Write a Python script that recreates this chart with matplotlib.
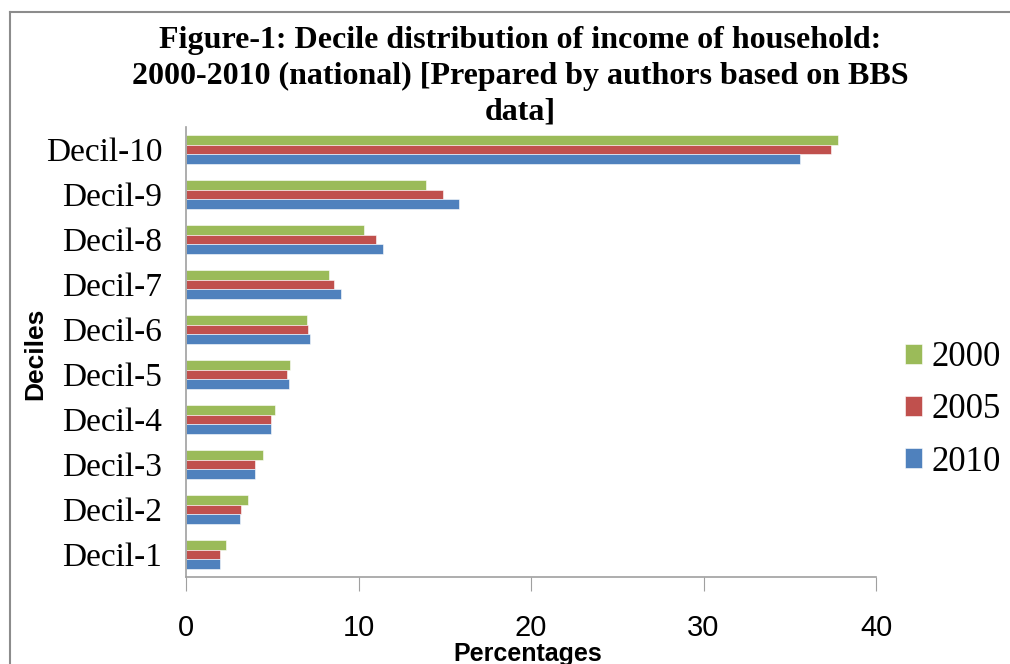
import numpy as np
import matplotlib.pyplot as plt
from matplotlib.lines import Line2D

deciles = ["Decil-1", "Decil-2", "Decil-3", "Decil-4", "Decil-5",
           "Decil-6", "Decil-7", "Decil-8", "Decil-9", "Decil-10"]
share_2000 = [2.3, 3.6, 4.45, 5.15, 6.0, 7.0, 8.3, 10.3, 13.9, 37.8]
share_2005 = [1.95, 3.2, 4.0, 4.9, 5.85, 7.05, 8.6, 11.0, 14.9, 37.4]
share_2010 = [1.95, 3.15, 4.0, 4.9, 5.95, 7.2, 9.0, 11.4, 15.8, 35.6]
years = ["2000", "2005", "2010"]
colors = ["#9BBB59", "#C0504D", "#4F81BD"]

serif = ["Liberation Serif", "DejaVu Serif"]
sans = ["Liberation Sans", "DejaVu Sans"]

fig = plt.figure(figsize=(10.1, 6.64), dpi=100)
ax = fig.add_axes([186/1010, 1 - 577/664, 690/1010, 450/664])

y = np.arange(len(deciles))
h = 0.222
bars = []
for k, (vals, col) in enumerate(zip([share_2000, share_2005, share_2010], colors)):
    b = ax.barh(y + (1 - k)*h, vals, height=h, color=col,
                edgecolor="white", linewidth=0.4)
    bars.append(b)

ax.set_xlim(0, 40)
ax.set_ylim(-0.5, 9.5)
ax.set_xticks([0, 10, 20, 30, 40])
ax.set_yticks(y)
ax.set_yticklabels(deciles, family=serif, fontsize=24)
for lab in ax.get_xticklabels():
    lab.set_family(sans)
    lab.set_fontsize(21)
ax.tick_params(axis="x", direction="out", length=10, color="#A0A0A0", pad=17)
ax.tick_params(axis="y", length=0, pad=17)
for s in ["top", "right"]:
    ax.spines[s].set_visible(False)
for s in ["left", "bottom"]:
    ax.spines[s].set_color("#A0A0A0")
    ax.spines[s].set_linewidth(1.2)

fig.text(528/1010, 1 - 654/664, "Percentages", ha="center", va="center",
         fontsize=18, fontweight="bold", family=sans)
fig.text(35/1010, 1 - 354/664, "Deciles", ha="center", va="center",
         rotation=90, fontsize=19, fontweight="bold", family=sans)

fig.text(520/1010, 1 - 76/664,
         "Figure-1: Decile distribution of income of household:\n"
         "2000-2010 (national) [Prepared by authors based on BBS\ndata]",
         ha="center", va="center", fontsize=23, fontweight="bold",
         family=serif, linespacing=1.3)

ax.legend(bars, years, loc="center left", bbox_to_anchor=(905/1010, 1 - 410/664),
          bbox_transform=fig.transFigure, frameon=False, borderaxespad=0,
          borderpad=0, prop={"family": serif, "size": 25}, handlelength=0.5,
          handleheight=0.5, handletextpad=0.25, labelspacing=0.55)

# outer frame
fig.add_artist(Line2D([10/1010, 10/1010], [0, 1 - 12/664],
                      transform=fig.transFigure, color="#8C8C8C", lw=1.5))
fig.add_artist(Line2D([10/1010, 1], [1 - 12/664, 1 - 12/664],
                      transform=fig.transFigure, color="#8C8C8C", lw=1.5))

fig.savefig("out.png", dpi=100)
